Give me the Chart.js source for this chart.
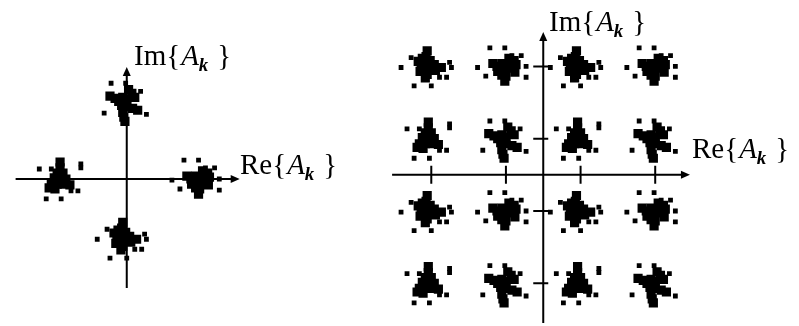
<!DOCTYPE html>
<html>
<head>
<meta charset="utf-8">
<script src="https://cdn.jsdelivr.net/npm/chart.js@4/dist/chart.umd.min.js"></script>
<style>
  body { margin: 0; background: #fff; }
  .wrap { display: flex; width: 799px; height: 326px; }
  canvas { display: block; }
</style>
</head>
<body>
<div class="wrap">
  <canvas id="qpsk" width="380" height="326"></canvas>
  <canvas id="qam" width="419" height="326"></canvas>
</div>
<script>
// Received symbol clouds: the dense core of each cluster and the scattered samples around it,
// as [dRe, dIm] offsets from the symbol they belong to.
const coreA = [[-0.11, 0.43], [-0.14, 0.27], [-0.24, 0.22], [-0.35, 0.14], [-0.27, 0.05], [-0.14, 0.08], [-0.03, 0.16], [0.08, 0.05], [-0.19, -0.08], [-0.05, -0.08], [0.11, -0.11], [0.27, -0.03], [-0.30, -0.14], [-0.11, -0.22], [-0.16, -0.32]];
const spreadA = [[-0.54, 0.24], [-0.81, -0.03], [0.49, 0.11], [0.54, -0.03], [0.22, -0.30], [0.41, -0.30], [-0.46, -0.54], [0, -0.54]];

const coreB = [[-0.35, 0.08], [-0.24, 0], [-0.22, -0.14], [-0.11, 0.08], [-0.05, -0.08], [0.08, 0.22], [0.22, 0.16], [0.27, 0.05], [0.11, -0.05], [0.24, -0.16], [-0.11, -0.24], [0, -0.27], [-0.03, -0.41], [0.05, 0.03]];
const spreadB = [[-0.43, 0.51], [-0.03, 0.51], [0.16, 0.30], [0.41, 0.30], [0.54, 0], [-0.76, -0.03], [-0.54, -0.27], [0.54, -0.30]];

const coreC = [[-0.08, 0.46], [-0.08, 0.30], [-0.16, 0.16], [0, 0.16], [-0.24, 0.03], [-0.08, 0], [0.08, 0], [-0.32, -0.14], [-0.16, -0.14], [0.03, -0.14], [0.19, -0.16], [-0.38, -0.24], [-0.22, -0.27]];
const spreadC = [[-0.65, 0.27], [-0.32, 0.27], [0.49, 0.41], [0.49, 0.30], [0.22, -0.32], [0.41, -0.32], [-0.46, -0.54], [-0.05, -0.54]];

const coreD = [[-0.46, 0.14], [-0.32, 0.08], [-0.22, 0], [-0.11, 0.11], [0.05, 0.32], [0.14, 0.22], [0.22, 0.11], [0, 0.05], [-0.14, -0.11], [0, -0.14], [0.16, -0.19], [0.30, -0.24], [-0.11, -0.30], [-0.08, -0.43], [-0.05, -0.54]];
const spreadD = [[-0.43, 0.49], [-0.03, 0.49], [0.38, 0.27], [-0.62, -0.32], [0.54, -0.35]];

// QPSK: symbol positions and which cloud each one carries
const qpskSymbols = [[-1.75, 0], [2.0, 0], [0, 2.1], [0, -1.6]];
const qpskClouds = ['C', 'B', 'D', 'A'];

// 16-QAM: levels on each axis (rows top to bottom), and tick positions
const qamRe = [-3, -1, 1, 3];
const qamIm = [3, 1, -1, -3];
const qamTicks = [-3, -1, 1, 3];

const cores = { A: coreA, B: coreB, C: coreC, D: coreD };
const spreads = { A: spreadA, B: spreadB, C: spreadC, D: spreadD };

const SERIF = '"Liberation Serif", "Times New Roman", serif';

function cloudPoints(symbols, kinds, table) {
    const pts = [];
    symbols.forEach((s, i) => {
        table[kinds[i]].forEach(o => pts.push({ x: s[0] + o[0], y: s[1] + o[1] }));
    });
    return pts;
}

const qamSymbols = [];
const qamKinds = [];
qamIm.forEach((im, r) => {
    qamRe.forEach((re, c) => {
        qamSymbols.push([re, im]);
        qamKinds.push([['A', 'B'], ['C', 'D']][r % 2][c % 2]);
    });
});

// draws "Re{A_k}" / "Im{A_k}"
function drawAxisName(ctx, name, x, y) {
    ctx.fillStyle = '#000';
    ctx.textBaseline = 'alphabetic';
    ctx.textAlign = 'left';
    ctx.font = '29px ' + SERIF;
    ctx.fillText(name + '{', x, y);
    x += ctx.measureText(name + '{').width + 1;
    ctx.font = 'italic 29px ' + SERIF;
    ctx.fillText('A', x, y);
    x += ctx.measureText('A').width;
    ctx.font = 'italic bold 19px ' + SERIF;
    ctx.fillText('k', x, y + 6);
    x += ctx.measureText('k').width + 9;
    ctx.font = '29px ' + SERIF;
    ctx.fillText('}', x, y);
}

function arrowHead(ctx, x, y, dir) {
    ctx.beginPath();
    if (dir === 'right') {
        ctx.moveTo(x, y);
        ctx.lineTo(x - 9, y - 4);
        ctx.lineTo(x - 9, y + 4);
    } else {
        ctx.moveTo(x, y);
        ctx.lineTo(x - 4, y + 9);
        ctx.lineTo(x + 4, y + 9);
    }
    ctx.closePath();
    ctx.fill();
}

// axes through the origin with arrow heads, optional cross ticks and names
const crossAxes = {
    id: 'crossAxes',
    beforeDatasetsDraw(chart, args, opts) {
        const ctx = chart.ctx;
        const xs = chart.scales.x, ys = chart.scales.y;
        const x0 = xs.getPixelForValue(0), y0 = ys.getPixelForValue(0);
        const xa = xs.getPixelForValue(opts.reRange[0]), xb = xs.getPixelForValue(opts.reRange[1]);
        const ya = ys.getPixelForValue(opts.imRange[0]), yb = ys.getPixelForValue(opts.imRange[1]);
        ctx.save();
        ctx.strokeStyle = '#000';
        ctx.fillStyle = '#000';
        ctx.lineWidth = 2;
        ctx.beginPath();
        ctx.moveTo(xa, y0); ctx.lineTo(xb - 4, y0);
        ctx.moveTo(x0, ya); ctx.lineTo(x0, yb + 4);
        (opts.ticks || []).forEach(t => {
            const px = xs.getPixelForValue(t);
            ctx.moveTo(px, y0 - 9); ctx.lineTo(px, y0 + 9);
            const py = ys.getPixelForValue(t);
            ctx.moveTo(x0 - 10, py); ctx.lineTo(x0 + 5, py);
        });
        ctx.stroke();
        arrowHead(ctx, xb, y0, 'right');
        arrowHead(ctx, x0, yb, 'up');
        ctx.restore();
    },
    afterDraw(chart, args, opts) {
        const ctx = chart.ctx;
        ctx.save();
        drawAxisName(ctx, 'Im', opts.imLabel[0], opts.imLabel[1]);
        drawAxisName(ctx, 'Re', opts.reLabel[0], opts.reLabel[1]);
        ctx.restore();
    }
};

function constellation(id, symbols, kinds, range, padding, axes) {
    return new Chart(document.getElementById(id), {
        type: 'scatter',
        data: {
            datasets: [{
                data: cloudPoints(symbols, kinds, cores),
                pointStyle: 'rect',
                pointRadius: 6.5,
                borderWidth: 0,
                backgroundColor: '#000'
            }, {
                data: cloudPoints(symbols, kinds, spreads),
                pointStyle: 'rect',
                pointRadius: 3.4,
                borderWidth: 0,
                backgroundColor: '#000'
            }]
        },
        options: {
            responsive: false,
            animation: false,
            events: [],
            layout: { padding: padding },
            scales: {
                x: { type: 'linear', display: false, min: range.x[0], max: range.x[1] },
                y: { type: 'linear', display: false, min: range.y[0], max: range.y[1] }
            },
            plugins: {
                legend: { display: false },
                tooltip: { enabled: false },
                crossAxes: axes
            }
        },
        plugins: [crossAxes]
    });
}

function drawAll() {
    constellation('qpsk', qpskSymbols, qpskClouds,
        { x: [-3.3, 3.3], y: [-3.3, 3.3] },
        { left: 3, right: 133, top: 57, bottom: 25 },
        { reRange: [-3.05, 3.1], imRange: [-2.95, 3.03], imLabel: [134, 65], reLabel: [240, 174] });

    constellation('qam', qamSymbols, qamKinds,
        { x: [-4.2, 4.2], y: [-4.0, 4.2] },
        { left: 2, right: 99, top: 23, bottom: 2 },
        { reRange: [-4.05, 3.93], imRange: [-4.1, 3.95], ticks: qamTicks, imLabel: [169, 31], reLabel: [312, 158] });
}

// canvas text needs the serif face loaded first
Promise.all([
    document.fonts.load('29px "Liberation Serif"'),
    document.fonts.load('italic 29px "Liberation Serif"'),
    document.fonts.load('italic bold 19px "Liberation Serif"')
]).then(drawAll, drawAll);
</script>
</body>
</html>
